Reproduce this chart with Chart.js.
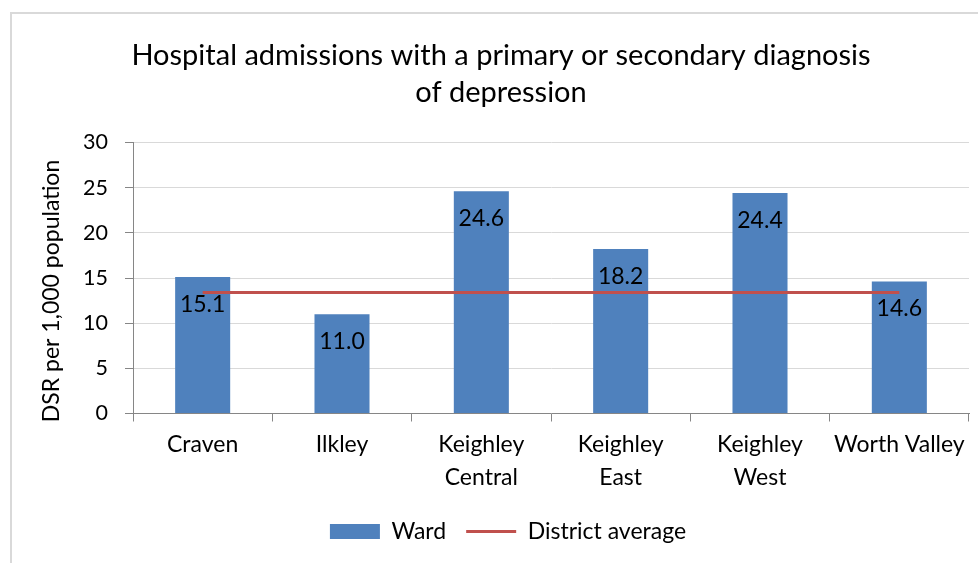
<!DOCTYPE html>
<html>
<head>
<meta charset="utf-8">
<script src="https://cdn.jsdelivr.net/npm/chart.js@4.4.0/dist/chart.umd.min.js"></script>
<style>
html, body { margin: 0; padding: 0; background: #fff; overflow: hidden; }
#wrap { position: relative; width: 978px; height: 563px; }
#frame { position: absolute; left: 10px; top: 12px; width: 1100px; height: 700px; border: 2px solid #d9d9d9; }
#c { position: absolute; left: 0; top: 0; }
</style>
</head>
<body>
<div id="wrap"><div id="frame"></div><canvas id="c" width="978" height="563"></canvas></div>
<script>
// data
var wards = ['Craven', 'Ilkley', ['Keighley', 'Central'], ['Keighley', 'East'], ['Keighley', 'West'], 'Worth Valley'];
var wardValues = [15.1, 11.0, 24.6, 18.2, 24.4, 14.6];
var districtAverage = [13.4, 13.4, 13.4, 13.4, 13.4, 13.4];
var yTicks = [0, 5, 10, 15, 20, 25, 30];

var chartTitle = ['Hospital admissions with a primary or secondary diagnosis', 'of depression'];
var yTitle = 'DSR per 1,000 population';

var barColor = '#4f81bd';
var lineColor = '#c0504d';
var fontFamily = 'Lato, "Open Sans", sans-serif';

// value labels inside the top of each bar
var barLabels = {
	id: 'barLabels',
	afterDatasetsDraw: function(chart){
		var ctx = chart.ctx;
		var meta = chart.getDatasetMeta(0);
		ctx.save();
		ctx.font = '23px ' + fontFamily;
		ctx.fillStyle = '#000';
		ctx.textAlign = 'center';
		ctx.textBaseline = 'middle';
		meta.data.forEach(function(bar, i){
			ctx.fillText(wardValues[i].toFixed(1), bar.x, bar.y + 27);
		});
		ctx.restore();
	}
};

// y axis title, sits a bit lower than the plot centre like the original
var yAxisTitle = {
	id: 'yAxisTitle',
	afterDraw: function(chart){
		var ctx = chart.ctx;
		var area = chart.chartArea;
		ctx.save();
		ctx.font = '23px ' + fontFamily;
		ctx.fillStyle = '#000';
		ctx.textAlign = 'center';
		ctx.textBaseline = 'middle';
		ctx.translate(52, (area.top + area.bottom) / 2 + 13);
		ctx.rotate(-Math.PI / 2);
		ctx.fillText(yTitle, 0, 0);
		ctx.restore();
	}
};

// the legend is centred on the wider original frame
var shiftLegend = {
	id: 'shiftLegend',
	afterLayout: function(chart){
		chart.legend.left += 7;
		chart.legend.right += 7;
	}
};

new Chart(document.getElementById('c'), {
	type: 'bar',
	data: {
		labels: wards,
		datasets: [{
			type: 'bar',
			label: 'Ward',
			data: wardValues,
			backgroundColor: barColor,
			borderWidth: 0,
			categoryPercentage: 1,
			barPercentage: 0.395,
			order: 1
		}, {
			type: 'line',
			label: 'District average',
			data: districtAverage,
			borderColor: lineColor,
			backgroundColor: lineColor,
			borderWidth: 3,
			pointRadius: 0,
			fill: false,
			order: 0
		}]
	},
	options: {
		responsive: false,
		animation: false,
		layout: { padding: { left: 33, right: 9, top: 0, bottom: 10 } },
		plugins: {
			title: {
				display: true,
				text: chartTitle,
				color: '#000',
				font: { family: fontFamily, size: 29, weight: 'normal', lineHeight: '37px' },
				padding: { top: 37, bottom: 31.5 }
			},
			legend: {
				position: 'bottom',
				labels: {
					color: '#000',
					font: { family: fontFamily, size: 23 },
					usePointStyle: true,
					pointStyleWidth: 50,
					boxHeight: 15,
					padding: 20,
					generateLabels: function(chart){
						return [
							{ text: 'Ward', fillStyle: barColor, strokeStyle: barColor, lineWidth: 0, pointStyle: 'rect', datasetIndex: 0, hidden: false, fontColor: '#000' },
							{ text: 'District average', fillStyle: lineColor, strokeStyle: lineColor, lineWidth: 3, pointStyle: 'line', datasetIndex: 1, hidden: false, fontColor: '#000' }
						];
					}
				}
			},
			tooltip: { enabled: false }
		},
		scales: {
			x: {
				grid: { drawOnChartArea: false, drawTicks: true, tickLength: 8, tickColor: '#868686', offset: true },
				border: { color: '#868686', width: 1 },
				ticks: { color: '#000', font: { family: fontFamily, size: 23, lineHeight: '33px' }, padding: 7, maxRotation: 0, autoSkip: false },
				afterFit: function(scale){ scale.height = 86.5; }
			},
			y: {
				min: 0,
				max: 30,
				afterBuildTicks: function(scale){
					scale.ticks = yTicks.map(function(v){ return { value: v }; });
				},
				grid: { color: '#d9d9d9', lineWidth: 1, drawTicks: true, tickLength: 8, tickColor: '#868686' },
				border: { color: '#868686', width: 1 },
				ticks: { color: '#000', font: { family: fontFamily, size: 21.5 }, padding: 17 },
				afterFit: function(scale){ scale.width = 100; }
			}
		}
	},
	plugins: [barLabels, yAxisTitle, shiftLegend]
});
</script>
</body>
</html>
